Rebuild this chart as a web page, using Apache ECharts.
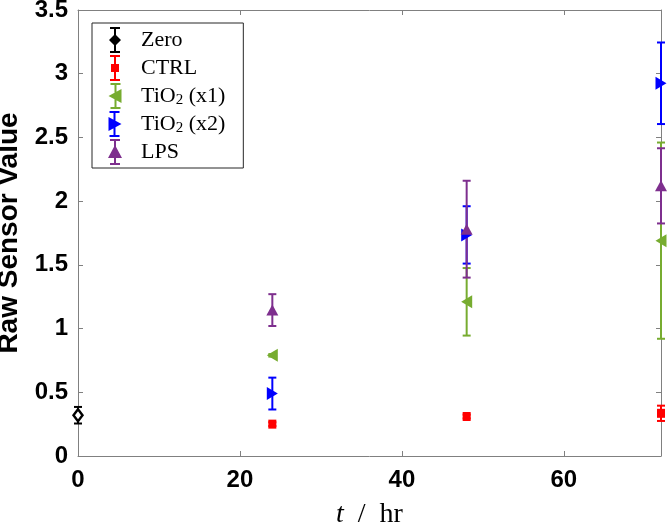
<!DOCTYPE html>
<html>
<head>
<meta charset="utf-8">
<script src="https://cdn.jsdelivr.net/npm/echarts@6/dist/echarts.min.js"></script>
<style>
html,body{margin:0;padding:0;background:#fff;}
#chart{width:669px;height:529px;}
</style>
</head>
<body>
<div id="chart"></div>
<script>
// ---- data ----
const seriesNames = ['Zero', 'CTRL', 'TiO2 (x1)', 'TiO2 (x2)', 'LPS'];
const zeroTimes = [0];
const zeroMean = [0.32];
const zeroErr = [0.065];
const sampleTimes = [24, 48, 72];
const ctrlMean = [0.25, 0.31, 0.335];
const ctrlErr = [0.015, 0.015, 0.06];
const tio1Mean = [0.79, 1.21, 1.69];
const tio1Err = [0.01, 0.265, 0.77];
const tio2Mean = [0.49, 1.735, 2.925];
const tio2Err = [0.125, 0.225, 0.32];
const lpsMean = [1.145, 1.78, 2.12];
const lpsErr = [0.125, 0.38, 0.295];
const xTicks = [0, 20, 40, 60];
const yTicks = [0, 0.5, 1, 1.5, 2, 2.5, 3, 3.5];

const groups = [
  {name: seriesNames[0], t: zeroTimes, m: zeroMean, e: zeroErr, color: '#000000',
   symbol: 'diamond', size: [9, 12], rotate: 0, fill: '#ffffff', border: 2.5,
   icon: 'path://M9 0L11 0L11 26L9 26Z M5 0L15 0L15 2L5 2Z M5 24L15 24L15 26L5 26Z M10 7L16 13L10 19L4 13Z'},
  {name: seriesNames[1], t: sampleTimes, m: ctrlMean, e: ctrlErr, color: '#ff0000',
   symbol: 'rect', size: [8, 9], rotate: 0, fill: '#ff0000', border: 0,
   icon: 'path://M9 0L11 0L11 26L9 26Z M5 0L15 0L15 2L5 2Z M5 24L15 24L15 26L5 26Z M6 9L14 9L14 17L6 17Z'},
  {name: seriesNames[2], t: sampleTimes, m: tio1Mean, e: tio1Err, color: '#77ac30',
   symbol: 'triangle', size: [13, 11], rotate: 90, fill: '#77ac30', border: 0,
   icon: 'path://M9 0L11 0L11 26L9 26Z M5 0L15 0L15 2L5 2Z M5 24L15 24L15 26L5 26Z M3 13L16 6L16 20Z'},
  {name: seriesNames[3], t: sampleTimes, m: tio2Mean, e: tio2Err, color: '#0000ff',
   symbol: 'triangle', size: [13, 11], rotate: -90, fill: '#0000ff', border: 0,
   icon: 'path://M9 0L11 0L11 26L9 26Z M5 0L15 0L15 2L5 2Z M5 24L15 24L15 26L5 26Z M17 13L4 20L4 6Z'},
  {name: seriesNames[4], t: sampleTimes, m: lpsMean, e: lpsErr, color: '#7e2f8e',
   symbol: 'triangle', size: [12, 11], rotate: 0, fill: '#7e2f8e', border: 0,
   icon: 'path://M9 0L11 0L11 26L9 26Z M5 0L15 0L15 2L5 2Z M5 24L15 24L15 26L5 26Z M10 6L17 19L3 19Z'}
];

const axisGray = '#808080';
const tickFont = {fontFamily: 'Liberation Sans, Arial, sans-serif', fontWeight: 'bold', fontSize: 24, color: '#000'};

function errRender(color) {
  return function (params, api) {
    const x = api.value(0), lo = api.value(1), hi = api.value(2);
    const pHi = api.coord([x, hi]);
    const pLo = api.coord([x, lo]);
    const cw = 4;
    const st = {stroke: color, lineWidth: 2};
    return {
      type: 'group',
      children: [
        {type: 'line', shape: {x1: pHi[0], y1: pHi[1], x2: pLo[0], y2: pLo[1]}, style: st},
        {type: 'line', shape: {x1: pHi[0] - cw, y1: pHi[1], x2: pHi[0] + cw, y2: pHi[1]}, style: st},
        {type: 'line', shape: {x1: pLo[0] - cw, y1: pLo[1], x2: pLo[0] + cw, y2: pLo[1]}, style: st}
      ]
    };
  };
}

const series = [];
groups.forEach(function (g) {
  series.push({
    type: 'custom',
    name: g.name + ' err',
    clip: false,
    renderItem: errRender(g.color),
    data: g.t.map(function (t, i) { return [t, g.m[i] - g.e[i], g.m[i] + g.e[i]]; }),
    silent: true
  });
  series.push({
    type: 'scatter',
    name: g.name,
    clip: false,
    symbol: g.symbol,
    symbolSize: g.size,
    symbolRotate: g.rotate,
    itemStyle: {color: g.fill, borderColor: g.color, borderWidth: g.border, opacity: 1},
    data: g.t.map(function (t, i) { return [t, g.m[i]]; })
  });
});

const chart = echarts.init(document.getElementById('chart'), null, {renderer: 'canvas'});
chart.setOption({
  animation: false,
  backgroundColor: '#ffffff',
  grid: {left: 78, right: 8, top: 10, bottom: 73, containLabel: false, outerBoundsMode: 'none'},
  legend: {
    left: 92, top: 23, orient: 'vertical',
    backgroundColor: '#ffffff',
    borderColor: '#262626', borderWidth: 1,
    padding: [4, 18, 3, 16],
    itemGap: 2, itemWidth: 20, itemHeight: 26,
    selectedMode: false,
    itemStyle: {borderWidth: 0},
    data: groups.map(function (g) {
      return {name: g.name, icon: g.icon, itemStyle: {color: g.color, borderWidth: 0}};
    }),
    formatter: function (name) {
      if (name.indexOf('TiO2') === 0) return 'TiO{sub|2}' + name.slice(4);
      return name;
    },
    textStyle: {
      fontFamily: 'Liberation Serif, serif', fontSize: 22, color: '#000', padding: [0, 0, 0, 11],
      rich: {sub: {fontFamily: 'Liberation Serif, serif', fontSize: 15, color: '#000', padding: [9, 0, 0, 0]}}
    }
  },
  xAxis: [{
    type: 'value', min: 0, max: 72, interval: 20, position: 'bottom',
    name: '{i|t}  /  hr', nameLocation: 'middle', nameGap: 45,
    nameTextStyle: {fontFamily: 'Liberation Serif, serif', fontSize: 28, color: '#000',
      rich: {i: {fontFamily: 'Liberation Serif, serif', fontStyle: 'italic', fontSize: 28, color: '#000'}}},
    axisLine: {show: true, lineStyle: {color: axisGray, width: 1}},
    axisTick: {show: true, inside: true, length: 5, lineStyle: {color: axisGray}},
    axisLabel: Object.assign({margin: 12, showMaxLabel: false,
      formatter: function (v) { return xTicks.indexOf(v) >= 0 ? String(v) : ''; }}, tickFont),
    splitLine: {show: false}
  }, {
    type: 'value', min: 0, max: 72, interval: 20, position: 'top',
    axisLine: {show: true, onZero: false, lineStyle: {color: axisGray, width: 1}},
    axisTick: {show: true, inside: true, length: 5, lineStyle: {color: axisGray}},
    axisLabel: {show: false}, splitLine: {show: false}
  }],
  yAxis: [{
    type: 'value', min: 0, max: 3.5, interval: 0.5, position: 'left',
    name: 'Raw Sensor Value', nameLocation: 'middle', nameGap: 52, nameRotate: 90,
    nameTextStyle: {fontFamily: 'Liberation Sans, Arial, sans-serif', fontWeight: 'bold', fontSize: 28, color: '#000'},
    axisLine: {show: true, lineStyle: {color: axisGray, width: 1}},
    axisTick: {show: true, inside: true, length: 5, lineStyle: {color: axisGray}},
    axisLabel: Object.assign({margin: 10,
      formatter: function (v) { return yTicks.indexOf(v) >= 0 ? String(v) : ''; }}, tickFont),
    splitLine: {show: false}
  }, {
    type: 'value', min: 0, max: 3.5, interval: 0.5, position: 'right',
    axisLine: {show: true, onZero: false, lineStyle: {color: axisGray, width: 1}},
    axisTick: {show: true, inside: true, length: 5, lineStyle: {color: axisGray}},
    axisLabel: {show: false}, splitLine: {show: false}
  }],
  series: series
});
</script>
</body>
</html>
